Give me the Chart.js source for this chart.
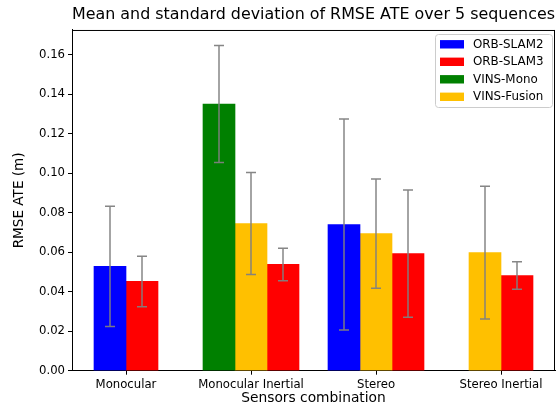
<!DOCTYPE html>
<html>
<head>
<meta charset="utf-8">
<script src="https://cdn.jsdelivr.net/npm/chart.js@4.4.0/dist/chart.umd.min.js"></script>
<style>
  body { margin: 0; background: #fff; }
  #wrap { width: 560px; height: 407px; }
</style>
</head>
<body>
<div id="wrap"><canvas id="ateChart" width="560" height="407"></canvas></div>
<script>
const categories = ['Monocular', 'Monocular Inertial', 'Stereo', 'Stereo Inertial'];

// mean / std of RMSE ATE (m), null = not evaluated
const orbSlam2Mean = [0.0528, null, 0.0740, null];
const orbSlam2Std = [0.0304, null, 0.0534, null];
const vinsMonoMean = [null, 0.1350, null, null];
const vinsMonoStd = [null, 0.0296, null, null];
const vinsFusionMean = [null, 0.0745, 0.0694, 0.0598];
const vinsFusionStd = [null, 0.0258, 0.0277, 0.0336];
const orbSlam3Mean = [0.0452, 0.0538, 0.0593, 0.0482];
const orbSlam3Std = [0.0128, 0.0082, 0.0322, 0.0070];

const legendOrder = ['ORB-SLAM2', 'ORB-SLAM3', 'VINS-Mono', 'VINS-Fusion'];

const FONT = "'DejaVu Sans', sans-serif";
Chart.defaults.font.family = FONT;
Chart.defaults.color = '#000';

function toPoints(values) {
    return values.map((v, i) => ({ x: i, y: v }));
}

function makeSet(label, color, mean, std) {
    return {
        label: label,
        data: toPoints(mean),
        std: std,
        backgroundColor: color,
        borderWidth: 0,
        barThickness: 32,
        skipNull: true
    };
}

const errorBars = {
    id: 'errorBars',
    afterDatasetsDraw(chart) {
        const ctx = chart.ctx;
        const yScale = chart.scales.y;
        ctx.save();
        ctx.strokeStyle = 'rgba(128,128,128,0.95)';
        ctx.lineWidth = 1.5;
        chart.data.datasets.forEach((ds, i) => {
            const meta = chart.getDatasetMeta(i);
            meta.data.forEach((bar, j) => {
                const m = ds.data[j].y;
                if (m === null) return;
                const s = ds.std[j];
                const top = yScale.getPixelForValue(m + s);
                const bottom = yScale.getPixelForValue(m - s);
                ctx.beginPath();
                ctx.moveTo(bar.x, top);
                ctx.lineTo(bar.x, bottom);
                ctx.moveTo(bar.x - 5, top);
                ctx.lineTo(bar.x + 5, top);
                ctx.moveTo(bar.x - 5, bottom);
                ctx.lineTo(bar.x + 5, bottom);
                ctx.stroke();
            });
        });
        ctx.restore();
    }
};

const frameAndLegend = {
    id: 'frameAndLegend',
    afterDraw(chart) {
        const ctx = chart.ctx;
        const a = chart.chartArea;
        ctx.save();
        // top / right spines
        ctx.strokeStyle = '#000';
        ctx.lineWidth = 1;
        ctx.beginPath();
        ctx.moveTo(a.left, a.top + 0.5);
        ctx.lineTo(a.right, a.top + 0.5);
        ctx.moveTo(a.right - 0.5, a.top);
        ctx.lineTo(a.right - 0.5, a.bottom);
        ctx.stroke();

        // legend box
        const bx = 435.5, by = 34.5, bw = 117, bh = 73, r = 3;
        ctx.beginPath();
        ctx.moveTo(bx + r, by);
        ctx.arcTo(bx + bw, by, bx + bw, by + bh, r);
        ctx.arcTo(bx + bw, by + bh, bx, by + bh, r);
        ctx.arcTo(bx, by + bh, bx, by, r);
        ctx.arcTo(bx, by, bx + bw, by, r);
        ctx.closePath();
        ctx.fillStyle = 'rgba(255,255,255,0.8)';
        ctx.fill();
        ctx.strokeStyle = '#cccccc';
        ctx.stroke();

        ctx.font = '11.9px ' + FONT;
        ctx.textBaseline = 'middle';
        ctx.textAlign = 'left';
        legendOrder.forEach((name, k) => {
            const ds = chart.data.datasets.find(d => d.label === name);
            const cy = 44.3 + k * 17.5;
            ctx.fillStyle = ds.backgroundColor;
            ctx.fillRect(440, cy - 4.2, 24, 8.4);
            ctx.fillStyle = '#000';
            ctx.fillText(name, 473, cy + 0.5);
        });
        ctx.restore();
    }
};

new Chart(document.getElementById('ateChart'), {
    type: 'bar',
    data: {
        datasets: [
            makeSet('ORB-SLAM2', '#0000ff', orbSlam2Mean, orbSlam2Std),
            makeSet('VINS-Mono', '#008000', vinsMonoMean, vinsMonoStd),
            makeSet('VINS-Fusion', '#ffc000', vinsFusionMean, vinsFusionStd),
            makeSet('ORB-SLAM3', '#ff0000', orbSlam3Mean, orbSlam3Std)
        ]
    },
    options: {
        responsive: false,
        animation: false,
        layout: { padding: { left: 0, right: 5, top: 0, bottom: 0 } },
        plugins: {
            legend: { display: false },
            tooltip: { enabled: false },
            title: {
                display: true,
                text: 'Mean and standard deviation of RMSE ATE over 5 sequences',
                fullSize: false,
                color: '#000',
                font: { size: 15.9, weight: 'normal' },
                padding: { top: 5, bottom: 5.9 }
            }
        },
        scales: {
            x: {
                type: 'linear',
                min: -0.432,
                max: 3.432,
                offset: false,
                grid: { display: true, offset: false, drawOnChartArea: false, drawTicks: true, tickLength: 4, color: '#000' },
                border: { display: true, color: '#000', width: 1 },
                ticks: {
                    stepSize: 1,
                    includeBounds: false,
                    autoSkip: false,
                    maxRotation: 0,
                    padding: 3,
                    color: '#000',
                    font: { size: 11.7 },
                    callback: v => categories[v] !== undefined ? categories[v] : ''
                },
                title: {
                    display: true,
                    text: 'Sensors combination',
                    color: '#000',
                    font: { size: 13.8 },
                    padding: { top: 0, bottom: 0 }
                },
                afterFit: s => { s.height = 36.3; }
            },
            y: {
                min: 0,
                max: 0.1725,
                grid: { display: true, drawOnChartArea: false, drawTicks: true, tickLength: 4, color: '#000' },
                border: { display: true, color: '#000', width: 1 },
                ticks: {
                    stepSize: 0.02,
                    includeBounds: false,
                    padding: 3,
                    color: '#000',
                    font: { size: 11.7 },
                    callback: v => v.toFixed(2)
                },
                title: {
                    display: true,
                    text: 'RMSE ATE (m)',
                    color: '#000',
                    font: { size: 13.6 },
                    padding: { top: 11, bottom: 0 }
                },
                afterFit: s => { s.width = 72; }
            }
        }
    },
    plugins: [errorBars, frameAndLegend]
});
</script>
</body>
</html>
